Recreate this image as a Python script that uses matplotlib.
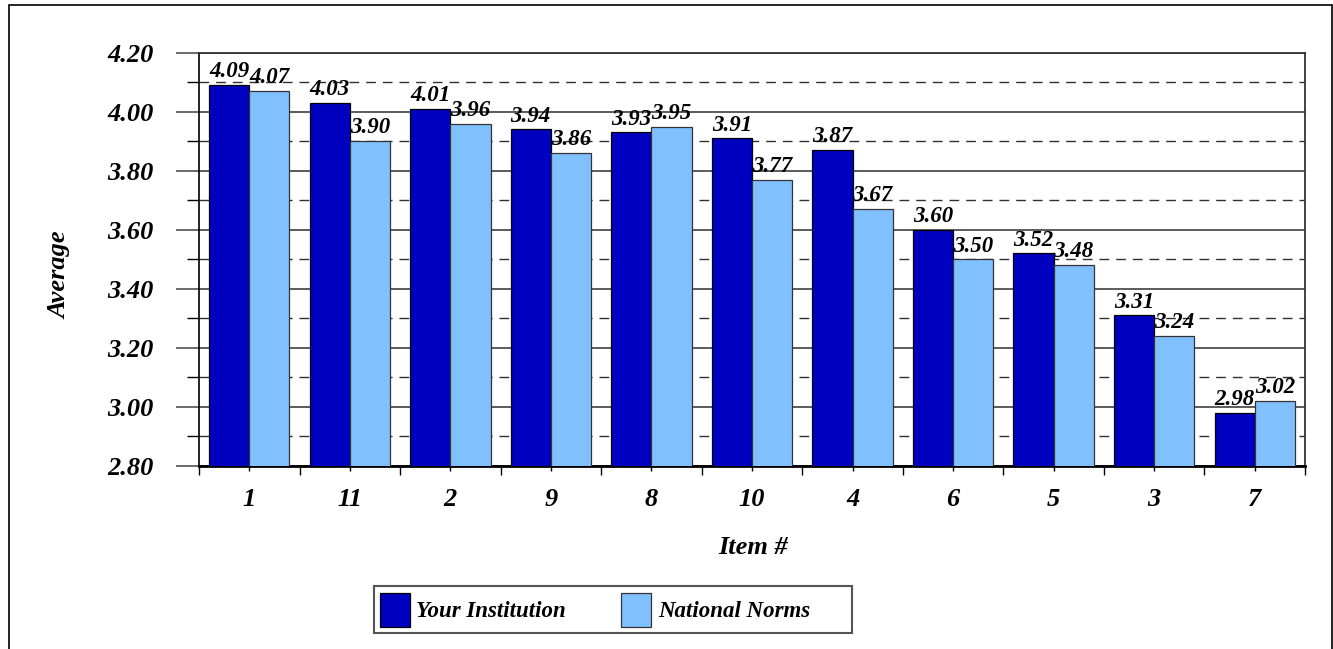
import numpy as np
import matplotlib
matplotlib.use('Agg')
import matplotlib.pyplot as plt
from matplotlib.patches import Rectangle
from matplotlib.ticker import MultipleLocator, FixedLocator, FormatStrFormatter

items = ['1', '11', '2', '9', '8', '10', '4', '6', '5', '3', '7']
your_inst = [4.09, 4.03, 4.01, 3.94, 3.93, 3.91, 3.87, 3.60, 3.52, 3.31, 2.98]
nat_norms = [4.07, 3.90, 3.96, 3.86, 3.95, 3.77, 3.67, 3.50, 3.48, 3.24, 3.02]
series_names = ['Your Institution', 'National Norms']
colors = ['#0000C0', '#80C0FF']

plt.rcParams['font.family'] = ['Liberation Serif', 'DejaVu Serif']
plt.rcParams['font.weight'] = 'bold'
plt.rcParams['font.style'] = 'italic'

W, H = 1333, 649
fig = plt.figure(figsize=(13.33, 6.49), dpi=100)
ax = fig.add_axes([199/W, 1-466/H, (1305-199)/W, (466-52.7)/H])

# outer chart border
fig.patches.append(Rectangle((9/W, -0.05), (1332-9)/W, 1.05-5/H,
                             transform=fig.transFigure, fill=False,
                             edgecolor='black', linewidth=1.2))

x = np.arange(len(items))
w = 0.4
b1 = ax.bar(x - w/2, your_inst, w, color=colors[0], edgecolor='black',
            linewidth=0.9, label=series_names[0], zorder=3)
b2 = ax.bar(x + w/2, nat_norms, w, color=colors[1], edgecolor='#333333',
            linewidth=0.9, label=series_names[1], zorder=3)

for bars, vals in [(b1, your_inst), (b2, nat_norms)]:
    for r, v in zip(bars, vals):
        ax.annotate('%.2f' % v, (r.get_x() + r.get_width()/2, v),
                    xytext=(0, 2), textcoords='offset points',
                    ha='center', va='bottom', fontsize=16.5,
                    fontweight='bold', fontstyle='italic', zorder=5)

ax.set_ylim(2.80, 4.20)
ax.set_xlim(-0.5, len(items) - 0.5)
ax.yaxis.set_major_locator(MultipleLocator(0.2))
ax.yaxis.set_minor_locator(MultipleLocator(0.1))
ax.yaxis.set_major_formatter(FormatStrFormatter('%.2f'))

ax.grid(axis='y', which='major', color='#404040', linewidth=1.2, zorder=0)
ax.grid(axis='y', which='minor', color='#303030', linewidth=1.0,
        linestyle=(0, (7, 5)), zorder=0)

ax.tick_params(axis='y', which='major', length=16.5, width=1.2, color='#505050',
               labelsize=19, pad=16)
ax.tick_params(axis='y', which='minor', length=8.6, width=1.0, color='black')

ax.set_xticks(x)
ax.set_xticklabels(items)
ax.xaxis.set_minor_locator(FixedLocator(np.arange(-0.5, len(items), 1.0)))
ax.tick_params(axis='x', which='major', length=3.6, width=1.0, labelsize=19, pad=12)
ax.tick_params(axis='x', which='minor', length=6.5, width=1.0)

for s in ['top', 'right']:
    ax.spines[s].set_color('#333333')
    ax.spines[s].set_linewidth(1.3)
ax.spines['left'].set_linewidth(1.2)
ax.spines['bottom'].set_linewidth(2.0)

fig.text(60/W, 1-275/H, 'Average', rotation=90, ha='center', va='center',
         fontsize=19, fontweight='bold', fontstyle='italic')
fig.text(753/W, 1-548/H, 'Item #', ha='center', va='center',
         fontsize=19, fontweight='bold', fontstyle='italic')

# legend frame drawn separately (wider than the entries, as in the original)
fig.patches.append(Rectangle((374/W, 1-633/H), (852-374)/W, (633-586)/H,
                             transform=fig.transFigure, fill=False,
                             edgecolor='#555555', linewidth=1.5))
leg = fig.legend(loc='center left', bbox_to_anchor=(374/W, 1-610/H), ncol=2,
                 fontsize=16.5, frameon=False,
                 handlelength=1.3, handleheight=1.9, columnspacing=2.4,
                 handletextpad=0.3, borderpad=0.25, borderaxespad=0)
for t in leg.get_texts():
    t.set_fontweight('bold')
    t.set_fontstyle('italic')

fig.savefig('out.png', dpi=100)
